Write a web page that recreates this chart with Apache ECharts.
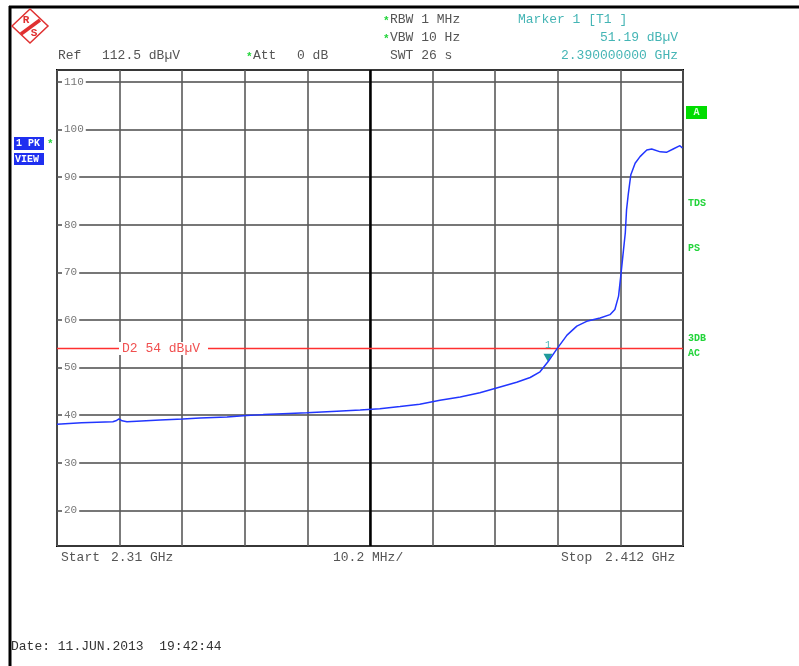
<!DOCTYPE html>
<html><head><meta charset="utf-8">
<script src="https://cdn.jsdelivr.net/npm/echarts@6/dist/echarts.min.js"></script>
<style>html,body{margin:0;padding:0;background:#fff}#c{width:799px;height:666px}</style>
</head><body><div id="c"></div>
<script>
const freqMHz = [2310.0, 2314.0, 2319.1, 2319.6, 2320.1, 2320.6, 2321.4, 2323.0, 2326.8, 2330.5,
  2333.3, 2337.7, 2340.9, 2343.6, 2346.8, 2350.7, 2355.6, 2359.4, 2362.6, 2365.9,
  2369.1, 2372.4, 2375.7, 2378.9, 2382.2, 2384.9, 2387.1, 2388.7, 2390.0, 2391.4,
  2393.1, 2394.7, 2396.3, 2398.5, 2400.1, 2400.9, 2401.5, 2401.8, 2402.2, 2402.6,
  2402.8, 2403.1, 2403.5, 2404.2, 2405.0, 2406.1, 2406.9, 2408.3, 2409.3, 2410.4,
  2411.5, 2411.9];
const levelDbuV = [38.1, 38.4, 38.6, 38.8, 39.2, 38.8, 38.6, 38.7, 38.95, 39.2,
  39.4, 39.6, 39.9, 40.1, 40.3, 40.5, 40.8, 41.05, 41.35, 41.8,
  42.3, 43.1, 43.8, 44.7, 45.9, 46.9, 47.9, 49.1, 51.19, 53.8,
  56.8, 58.7, 59.7, 60.4, 61.1, 62.2, 65.0, 68.5, 73.4, 78.3,
  83.1, 86.6, 90.5, 92.9, 94.3, 95.7, 95.9, 95.3, 95.2, 95.9,
  96.6, 96.1];
const sweepMHz = [2310, 2412];          // start, stop
const mhzPerDiv = [10.2];
const levelRange = [12.5, 112.5];       // bottom, reference level
const levelTicks = [20, 30, 40, 50, 60, 70, 80, 90, 100, 110];
const displayLineDb = [54];
const marker1 = [2390, 51.19];

const MONO = '"Liberation Mono", "DejaVu Sans Mono", monospace';
const GREY = '#555';
const TEAL = '#45b5b5';
const GREEN = '#22d43a';

function txt(x, y, s, color, align, font) {
  return { type: 'text', x: x, y: y, z: 100,
    style: { text: s, fill: color || GREY, font: font || ('13px ' + MONO),
             textAlign: align || 'left', textVerticalAlign: 'middle' } };
}
const boldSmall = 'bold 10px ' + MONO;

const graphics = [
  { type: 'line', z: 100, shape: { x1: 9, y1: 7, x2: 799, y2: 7 }, style: { stroke: '#000', lineWidth: 3 } },
  { type: 'line', z: 100, shape: { x1: 10, y1: 6, x2: 10, y2: 666 }, style: { stroke: '#000', lineWidth: 3 } },
  // R&S logo
  { type: 'polygon', z: 100, shape: { points: [[12, 26], [30, 9], [48, 26], [30, 43]] },
    style: { fill: '#fff', stroke: '#e03030', lineWidth: 1.5 } },
  { type: 'line', z: 100, shape: { x1: 40, y1: 20, x2: 21, y2: 34 }, style: { stroke: '#e03030', lineWidth: 3.5 } },
  txt(26, 20, 'R', '#e03030', 'center', 'bold 11px ' + MONO),
  txt(34, 33, 'S', '#e03030', 'center', 'bold 11px ' + MONO),
  // header
  txt(383, 21, '*', GREEN, 'left', 'bold 11px ' + MONO),
  txt(390, 20, 'RBW 1 MHz'),
  txt(383, 39, '*', GREEN, 'left', 'bold 11px ' + MONO),
  txt(390, 38, 'VBW 10 Hz'),
  txt(390, 56, 'SWT 26 s'),
  txt(58, 56, 'Ref'),
  txt(102, 56, '112.5 dBµV'),
  txt(246, 57, '*', GREEN, 'left', 'bold 11px ' + MONO),
  txt(253, 56, 'Att'),
  txt(297, 56, '0 dB'),
  txt(518, 20, 'Marker 1 [T1 ]', TEAL),
  txt(678, 38, '51.19 dBµV', TEAL, 'right'),
  txt(678, 56, '2.390000000 GHz', TEAL, 'right'),
  // left trace info boxes
  { type: 'rect', z: 100, shape: { x: 14, y: 137, width: 30, height: 13 }, style: { fill: '#1f2ff0' } },
  txt(16, 143.5, '1 PK', '#fff', 'left', boldSmall),
  txt(47, 144, '*', GREEN, 'left', 'bold 11px ' + MONO),
  { type: 'rect', z: 100, shape: { x: 14, y: 153, width: 30, height: 12 }, style: { fill: '#1f2ff0' } },
  txt(15, 159, 'VIEW', '#fff', 'left', boldSmall),
  // right side status
  { type: 'rect', z: 100, shape: { x: 686, y: 106, width: 21, height: 13 }, style: { fill: '#00dd00' } },
  txt(696.5, 112.5, 'A', '#d8ffd8', 'center', boldSmall),
  txt(688, 203, 'TDS', GREEN, 'left', boldSmall),
  txt(688, 248, 'PS', GREEN, 'left', boldSmall),
  txt(688, 338, '3DB', GREEN, 'left', boldSmall),
  txt(688, 353, 'AC', GREEN, 'left', boldSmall),
  // footer
  txt(61, 558, 'Start'),
  txt(111, 558, '2.31 GHz'),
  txt(333, 558, '10.2 MHz/'),
  txt(561, 558, 'Stop'),
  txt(605, 558, '2.412 GHz'),
  txt(11, 647, 'Date: 11.JUN.2013  19:42:44', '#333')
];

const chart = echarts.init(document.getElementById('c'), null, { renderer: 'canvas' });
chart.setOption({
  animation: false,
  backgroundColor: '#fff',
  grid: { left: 57, top: 70, right: 116, bottom: 120, show: true,
          borderColor: '#000', borderWidth: 2, backgroundColor: '#fff' },
  xAxis: {
    type: 'value', min: sweepMHz[0], max: sweepMHz[1], interval: mhzPerDiv[0],
    axisLine: { show: false }, axisTick: { show: false }, axisLabel: { show: false },
    splitLine: { show: true, lineStyle: { color: '#5a5a5a', width: 1.6 } }
  },
  yAxis: {
    type: 'value', min: levelRange[0], max: levelRange[1], splitNumber: 10,
    axisLine: { show: false }, axisTick: { show: false },
    splitLine: { show: true, lineStyle: { color: '#4a4a4a', width: 1.6 } },
    axisLabel: {
      inside: true, margin: 5, showMinLabel: false, showMaxLabel: false,
      formatter: v => (levelTicks.indexOf(Math.round(v * 10) / 10) >= 0 ? String(v) : ''),
      color: '#777', fontFamily: MONO, fontSize: 11,
      backgroundColor: '#fff', padding: [0, 2]
    }
  },
  series: [{
    type: 'line',
    data: freqMHz.map((f, i) => [f, levelDbuV[i]]),
    showSymbol: false, symbol: 'none',
    lineStyle: { color: '#2236ff', width: 1.5 },
    z: 5,
    markLine: {
      silent: true, symbol: ['none', 'none'], animation: false,
      data: [
        { xAxis: (sweepMHz[0] + sweepMHz[1]) / 2,
          lineStyle: { color: '#000', width: 2.5, type: 'solid' }, label: { show: false } },
        { yAxis: displayLineDb[0],
          lineStyle: { color: '#ff3030', width: 1.4, type: 'solid' },
          label: { show: true, position: 'insideStart', distance: 62,
                   formatter: 'D2 ' + displayLineDb[0] + ' dBµV',
                   color: '#f05050', fontFamily: MONO, fontSize: 13,
                   backgroundColor: '#fff', padding: [0, 8, 0, 3] } }
      ]
    },
    markPoint: {
      silent: true, animation: false,
      data: [{ coord: marker1, name: '1' }],
      symbol: 'triangle', symbolRotate: 180, symbolSize: [9, 8], symbolOffset: [0, -4],
      itemStyle: { color: '#1f9a9a' },
      label: { show: true, formatter: '1', position: 'top', distance: 3,
               color: TEAL, fontFamily: MONO, fontSize: 10 }
    }
  }],
  graphic: graphics
});
</script>
</body></html>
